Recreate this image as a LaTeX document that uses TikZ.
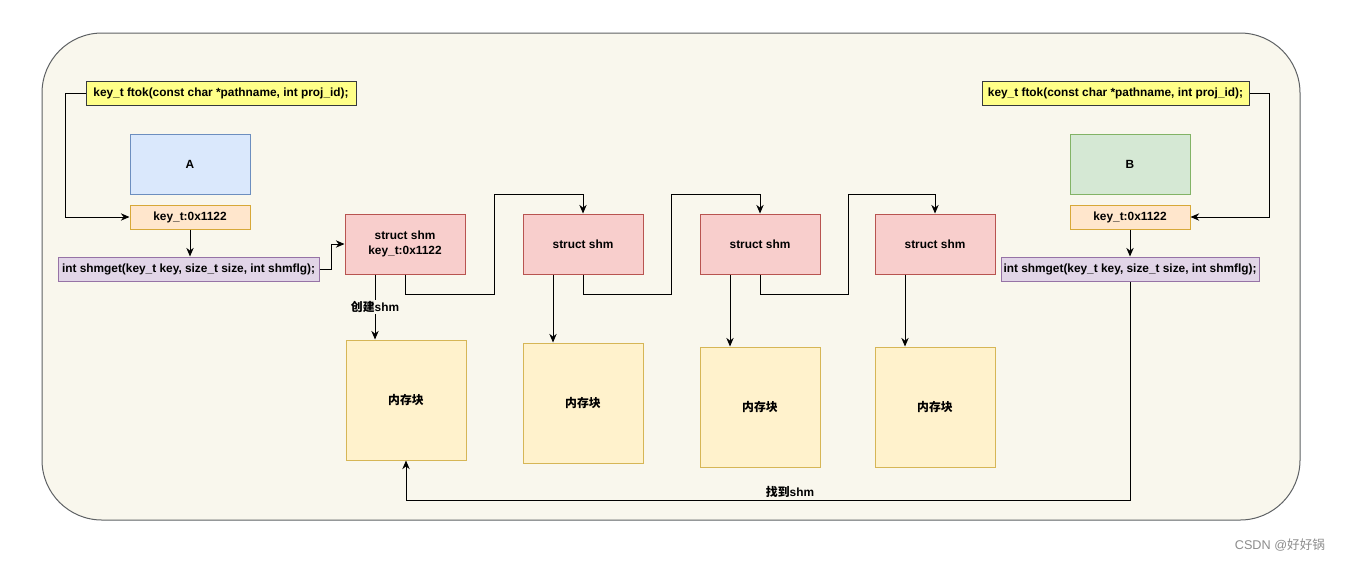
\documentclass[tikz,border=0pt]{standalone}
\usepackage{fontspec}
\setmainfont{Liberation Sans}
\newfontfamily\cjk{Noto Sans CJK SC}
\usetikzlibrary{arrows.meta}

\definecolor{canvas}{HTML}{F9F7ED}
\definecolor{canvasline}{HTML}{36393D}
\definecolor{notefill}{HTML}{FFFF88}
\definecolor{bluefill}{HTML}{DAE8FC}
\definecolor{blueline}{HTML}{6C8EBF}
\definecolor{greenfill}{HTML}{D5E8D4}
\definecolor{greenline}{HTML}{82B366}
\definecolor{keyfill}{HTML}{FFE6CC}
\definecolor{keyline}{HTML}{D7A838}
\definecolor{callfill}{HTML}{E1D5E7}
\definecolor{callline}{HTML}{9673A6}
\definecolor{shmfill}{HTML}{F8CECC}
\definecolor{shmline}{HTML}{B85450}
\definecolor{memfill}{HTML}{FFF2CC}
\definecolor{memline}{HTML}{D6B656}

\tikzset{
  box/.style={draw, inner sep=1pt, align=center,
    font=\bfseries\fontsize{8.9}{11.25}\selectfont},
  note/.style={box, fill=notefill, draw=canvasline, minimum height=18pt},
  proc/.style={box, minimum width=90pt, minimum height=45pt},
  keybox/.style={box, fill=keyfill, draw=keyline, minimum width=90pt, minimum height=18pt},
  callbox/.style={box, fill=callfill, draw=callline, minimum height=18pt},
  shmbox/.style={box, fill=shmfill, draw=shmline, minimum width=90pt, minimum height=45pt},
  membox/.style={box, fill=memfill, draw=memline, minimum width=90pt, minimum height=90pt},
  arr/.style={draw, -{Stealth[length=6.5pt,width=5.5pt]}},
  lbl/.style={font=\bfseries\fontsize{8.9}{10}\selectfont, inner sep=1pt}
}

\begin{document}
\begin{tikzpicture}[x=0.75pt,y=-0.75pt,line width=0.75pt]
\useasboundingbox (0,0) rectangle (1345,562);
\path[draw=canvasline!80, fill=canvas, rounded corners=45pt] (42,33) rectangle (1300,520);

% process A
\node[note, minimum width=202.5pt] (ftokA) at (221,93) {key\_t ftok(const char *pathname, int proj\_id);};
\node[proc, fill=bluefill, draw=blueline] (A) at (190,164) {A};
\node[keybox] (keyA) at (190,217) {key\_t:0x1122};
\node[callbox, minimum width=195.75pt] (getA) at (188.5,269) {int shmget(key\_t key, size\_t size, int shmflg);};

% process B
\node[note, minimum width=200.25pt] (ftokB) at (1115.5,93) {key\_t ftok(const char *pathname, int proj\_id);};
\node[proc, fill=greenfill, draw=greenline] (B) at (1130,164) {B};
\node[keybox] (keyB) at (1130,217) {key\_t:0x1122};
\node[callbox, minimum width=193.5pt] (getB) at (1130,269) {int shmget(key\_t key, size\_t size, int shmflg);};

% shm list
\node[shmbox] (s1) at (405,244) {struct shm\\key\_t:0x1122};
\node[shmbox] (s2) at (583,244) {struct shm};
\node[shmbox] (s3) at (760,244) {struct shm};
\node[shmbox] (s4) at (935,244) {struct shm};

% memory blocks
\node[membox] (m1) at (406,400) {\cjk 内存块};
\node[membox] (m2) at (583,403) {\cjk 内存块};
\node[membox] (m3) at (760,407) {\cjk 内存块};
\node[membox] (m4) at (935,407) {\cjk 内存块};

\path[arr] (ftokA.west) -- ++(-20,0) |- (keyA.west);
\path[arr] (keyA.south) -- (keyA.south |- getA.north);
\path[arr] (getA.east) -- ++(12,0) |- (s1.west);
\path[arr] (ftokB.east) -- ++(20,0) |- (keyB.east);
\path[arr] (keyB.south) -- (getB.north);

\path[arr] (s1.south) -- ++(0,20) -| (494,194) -| (s2.north);
\path[arr] (s2.south) -- ++(0,20) -| (671,194) -| (s3.north);
\path[arr] (s3.south) -- ++(0,20) -| (848,194) -| (s4.north);

\path[arr] ([xshift=-22.5pt]s1.south) -- ([xshift=-22.5pt]s1.south |- m1.north)
  node[lbl, pos=0.5, fill=canvas] {{\cjk 创建}shm};
\path[arr] ([xshift=-22.5pt]s2.south) -- ([xshift=-22.5pt]s2.south |- m2.north);
\path[arr] ([xshift=-22.5pt]s3.south) -- ([xshift=-22.5pt]s3.south |- m3.north);
\path[arr] ([xshift=-22.5pt]s4.south) -- ([xshift=-22.5pt]s4.south |- m4.north);

\path[arr] (getB.south) -- ++(0,219) -| (m1.south);
\node[lbl] (found) at (790,492) {{\cjk 找到}shm};

\node[text=black!45, font=\fontsize{9.5}{11}\selectfont, inner sep=0pt] (mark) at (1280,545) {CSDN @{\cjk 好好锅}};
\end{tikzpicture}
\end{document}
